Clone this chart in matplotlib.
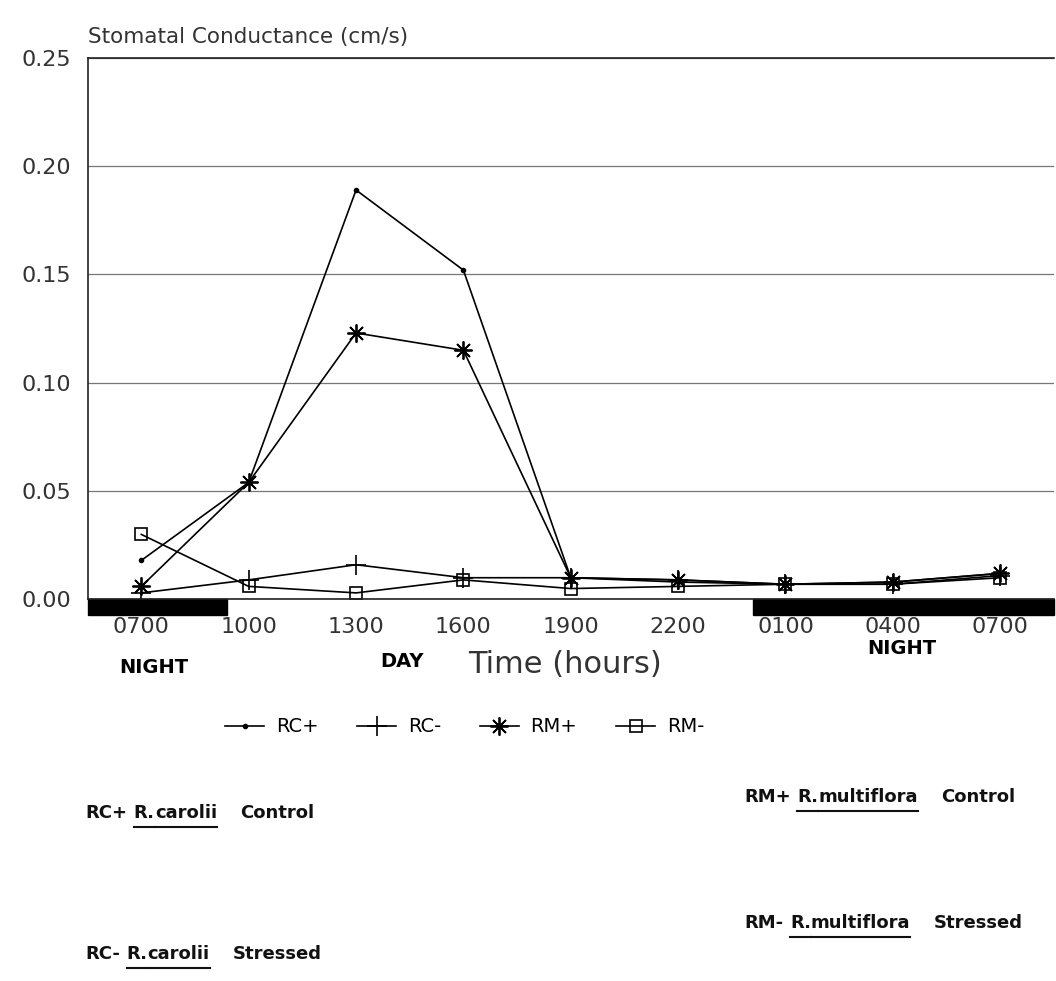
import matplotlib.pyplot as plt
from matplotlib.lines import Line2D
from matplotlib.patches import Rectangle
from matplotlib.transforms import blended_transform_factory

TIMES = ["0700", "1000", "1300", "1600", "1900", "2200", "0100", "0400", "0700"]

RC_PLUS = [0.018, 0.054, 0.189, 0.152, 0.010, 0.008, 0.007, 0.008, 0.012]
RC_MINUS = [0.003, 0.009, 0.016, 0.010, 0.010, 0.009, 0.007, 0.007, 0.011]
RM_PLUS = [0.006, 0.054, 0.123, 0.115, 0.010, 0.009, 0.007, 0.008, 0.012]
RM_MINUS = [0.030, 0.006, 0.003, 0.009, 0.005, 0.006, 0.007, 0.007, 0.010]

SERIES_LABELS = ["RC+", "RC-", "RM+", "RM-"]
Y_TICKS = [0.00, 0.05, 0.10, 0.15, 0.20, 0.25]

# night periods along the time axis (in tick-index units)
NIGHT_SPANS = [(-0.5, 0.8), (5.7, 8.5)]

KEY_LEFT = [("RC+", "R.", "carolii", "Control"), ("RC-", "R.", "carolii", "Stressed")]
KEY_RIGHT = [("RM+", "R.", "multiflora", "Control"), ("RM-", "R.", "multiflora", "Stressed")]


def main():
    plt.rcParams["font.family"] = ["DejaVu Sans"]
    fig = plt.figure(figsize=(10.56, 9.81), dpi=100)
    ax = fig.add_axes([0.083, 0.389, 0.915, 0.552])

    x = list(range(len(TIMES)))
    styles = [
        dict(marker="o", markersize=3),
        dict(marker="+", markersize=14, markeredgewidth=1.2),
        dict(marker=(8, 2, 0), markersize=13, markeredgewidth=1.3),
        dict(marker="s", markersize=9, markerfacecolor="none", markeredgewidth=1.2),
    ]
    handles = []
    for values, label, st in zip([RC_PLUS, RC_MINUS, RM_PLUS, RM_MINUS], SERIES_LABELS, styles):
        (h,) = ax.plot(x, values, color="black", linewidth=1.2, label=label, **st)
        handles.append(h)

    ax.set_xlim(-0.5, len(TIMES) - 0.5)
    ax.set_ylim(0, 0.25)
    ax.set_yticks(Y_TICKS)
    ax.set_yticklabels([f"{v:.2f}" for v in Y_TICKS])
    ax.set_xticks(x)
    ax.set_xticklabels(TIMES)
    ax.tick_params(axis="both", length=0, labelsize=16, colors="#333333")
    ax.tick_params(axis="x", pad=13)
    ax.tick_params(axis="y", pad=12)
    ax.yaxis.grid(True, color="#777777", linewidth=0.9)
    ax.set_axisbelow(True)
    for s in ax.spines.values():
        s.set_color("#222222")
        s.set_linewidth(1.2)
    ax.spines["right"].set_visible(False)

    trans = blended_transform_factory(ax.transData, ax.transAxes)
    for x0, x1 in NIGHT_SPANS:
        ax.add_patch(Rectangle((x0, -0.028), x1 - x0, 0.028, transform=trans,
                               facecolor="black", edgecolor="black", clip_on=False))

    fig.text(0.083, 0.962, "Stomatal Conductance (cm/s)", fontsize=15.5, color="#333333",
             ha="left", va="center")
    ax.text(0.12, -0.125, "NIGHT", transform=trans, fontsize=14, fontweight="bold",
            ha="center", va="center")
    ax.text(2.43, -0.115, "DAY", transform=trans, fontsize=14, fontweight="bold",
            ha="center", va="center")
    ax.text(7.08, -0.09, "NIGHT", transform=trans, fontsize=14, fontweight="bold",
            ha="center", va="center")
    ax.text(3.95, -0.12, "Time (hours)", transform=trans, fontsize=22, color="#333333",
            ha="center", va="center")

    fig.legend(handles=handles, labels=SERIES_LABELS, loc="center", ncol=4,
               bbox_to_anchor=(0.44, 0.259), frameon=False, fontsize=14,
               handlelength=2.0, columnspacing=2.0, handletextpad=0.6)

    # species key with underlined names
    fig.canvas.draw()
    renderer = fig.canvas.get_renderer()
    key_font = ["Liberation Sans Narrow", "DejaVu Sans"]
    rows = [(0.081, 0.166, KEY_LEFT[0]), (0.081, 0.022, KEY_LEFT[1]),
            (0.705, 0.182, KEY_RIGHT[0]), (0.705, 0.054, KEY_RIGHT[1])]
    for fx, fy, (code, genus, species, status) in rows:
        xpos = fx
        for part, gap, underline in [(code, 0.006, False), (genus, 0.0, True),
                                     (species, 0.018, True), (status, 0, False)]:
            t = fig.text(xpos, fy, part, fontsize=13, fontweight="bold", ha="left",
                         va="baseline", color="#111111", family=key_font)
            bb = t.get_window_extent(renderer).transformed(fig.transFigure.inverted())
            if underline:
                fig.add_artist(Line2D([bb.x0, bb.x1], [fy - 0.009, fy - 0.009],
                                      color="#111111", linewidth=1.5,
                                      transform=fig.transFigure))
            xpos = bb.x1 + gap + (0.004 if part == species else 0)

    fig.savefig("out.png", dpi=100)
    plt.close(fig)


if __name__ == "__main__":
    main()
